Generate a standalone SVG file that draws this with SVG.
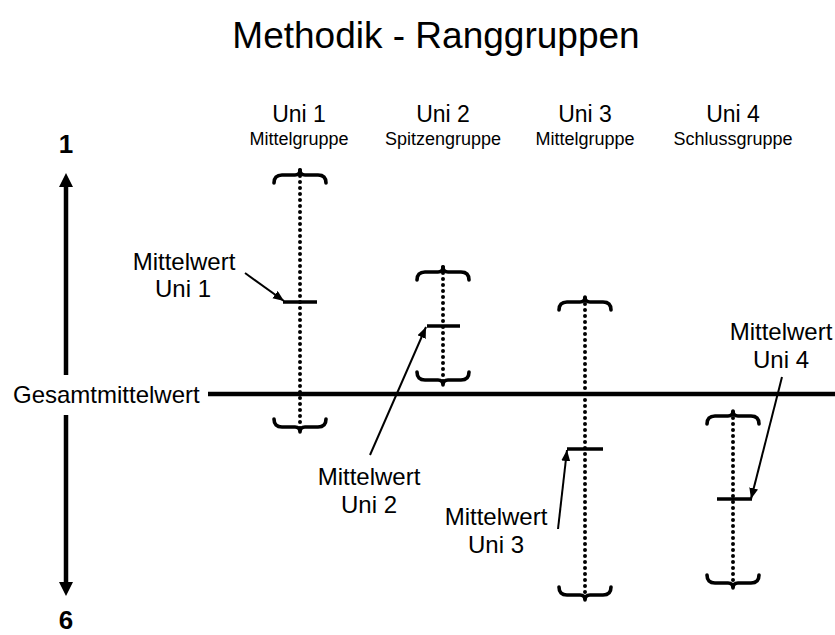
<svg xmlns="http://www.w3.org/2000/svg" xmlns:xlink="http://www.w3.org/1999/xlink" width="835" height="635" viewBox="0 0 835 635">
<style>
text{font-family:"Liberation Sans",Arial,sans-serif;fill:#000}
.title{font-size:37px;text-anchor:middle}
.uni{font-size:23px;text-anchor:middle}
.grp{font-size:18px;text-anchor:middle}
.lbl{font-size:24px;text-anchor:middle}
.axisnum{font-size:26px;font-weight:bold;text-anchor:middle}
.dots{stroke:#000;stroke-width:4;stroke-linecap:round;stroke-dasharray:0 6;fill:none}
.br{stroke:#000;stroke-width:3.6;fill:none;stroke-linecap:round;stroke-linejoin:round}
.tick{stroke:#000;stroke-width:3.5}
.ptr{stroke:#000;stroke-width:2;fill:none}
.axis{stroke:#000;stroke-width:4.5;fill:none}
</style>
<defs>
<path id="brace" d="M-26,8 Q-26,0 -18,0 L-5,0 Q0,0 0,-5 Q0,0 5,0 L18,0 Q26,0 26,8"/>
<marker id="ah" markerUnits="userSpaceOnUse" markerWidth="12" markerHeight="10" refX="11" refY="4.5" orient="auto">
<path d="M0,0 L11,4.5 L0,9 Z" fill="#000"/>
</marker>
</defs>
<text class="title" x="436" y="48">Methodik - Ranggruppen</text>
<g id="axis">
<path class="axis" d="M66,186 V375 M66,415 V582"/>
<path d="M66,173 L73,187 L59,187 Z M66,596 L73,582 L59,582 Z" fill="#000"/>
<text class="axisnum" x="66" y="153">1</text>
<text class="axisnum" x="66" y="629">6</text>
</g>
<g id="gesamt">
<line class="axis" x1="208" y1="394" x2="835" y2="394"/>
<text class="lbl" x="13" y="403" style="text-anchor:start">Gesamtmittelwert</text>
</g>
<g id="uni1">
<text class="uni" x="299" y="122">Uni 1</text>
<text class="grp" x="299" y="145">Mittelgruppe</text>
<line class="dots" x1="300" y1="170" x2="300" y2="432"/>
<use href="#brace" xlink:href="#brace" class="br" transform="translate(300,175)"/>
<use href="#brace" xlink:href="#brace" class="br" transform="translate(300,427) scale(1,-1)"/>
<line class="tick" x1="283" y1="302" x2="317" y2="302"/>
</g>
<g id="uni2">
<text class="uni" x="443" y="122">Uni 2</text>
<text class="grp" x="443" y="145">Spitzengruppe</text>
<line class="dots" x1="443" y1="267" x2="443" y2="384"/>
<use href="#brace" xlink:href="#brace" class="br" transform="translate(443,272)"/>
<use href="#brace" xlink:href="#brace" class="br" transform="translate(443,380) scale(1,-1)"/>
<line class="tick" x1="427" y1="326" x2="460" y2="326"/>
</g>
<g id="uni3">
<text class="uni" x="585" y="122">Uni 3</text>
<text class="grp" x="585" y="145">Mittelgruppe</text>
<line class="dots" x1="585" y1="298" x2="585" y2="599"/>
<use href="#brace" xlink:href="#brace" class="br" transform="translate(585,302)"/>
<use href="#brace" xlink:href="#brace" class="br" transform="translate(585,595) scale(1,-1)"/>
<line class="tick" x1="567" y1="449" x2="603" y2="449"/>
</g>
<g id="uni4">
<text class="uni" x="733" y="122">Uni 4</text>
<text class="grp" x="733" y="145">Schlussgruppe</text>
<line class="dots" x1="733" y1="412" x2="733" y2="587"/>
<use href="#brace" xlink:href="#brace" class="br" transform="translate(733,416)"/>
<use href="#brace" xlink:href="#brace" class="br" transform="translate(733,583) scale(1,-1)"/>
<line class="tick" x1="717" y1="499" x2="752" y2="499"/>
</g>
<g id="label1">
<text class="lbl" x="184" y="270">Mittelwert</text>
<text class="lbl" x="183" y="297">Uni 1</text>
</g>
<g id="label2">
<text class="lbl" x="369" y="485">Mittelwert</text>
<text class="lbl" x="369" y="513">Uni 2</text>
</g>
<g id="label3">
<text class="lbl" x="496" y="525">Mittelwert</text>
<text class="lbl" x="496" y="553">Uni 3</text>
</g>
<g id="label4">
<text class="lbl" x="781" y="340">Mittelwert</text>
<text class="lbl" x="781" y="368">Uni 4</text>
</g>
<g id="connectors">
<line class="ptr" x1="245" y1="273" x2="284" y2="301" marker-end="url(#ah)"/>
<line class="ptr" x1="370" y1="455" x2="426" y2="327" marker-end="url(#ah)"/>
<line class="ptr" x1="558" y1="529" x2="567" y2="450" marker-end="url(#ah)"/>
<line class="ptr" x1="782" y1="377" x2="751" y2="499" marker-end="url(#ah)"/>
</g>
</svg>
